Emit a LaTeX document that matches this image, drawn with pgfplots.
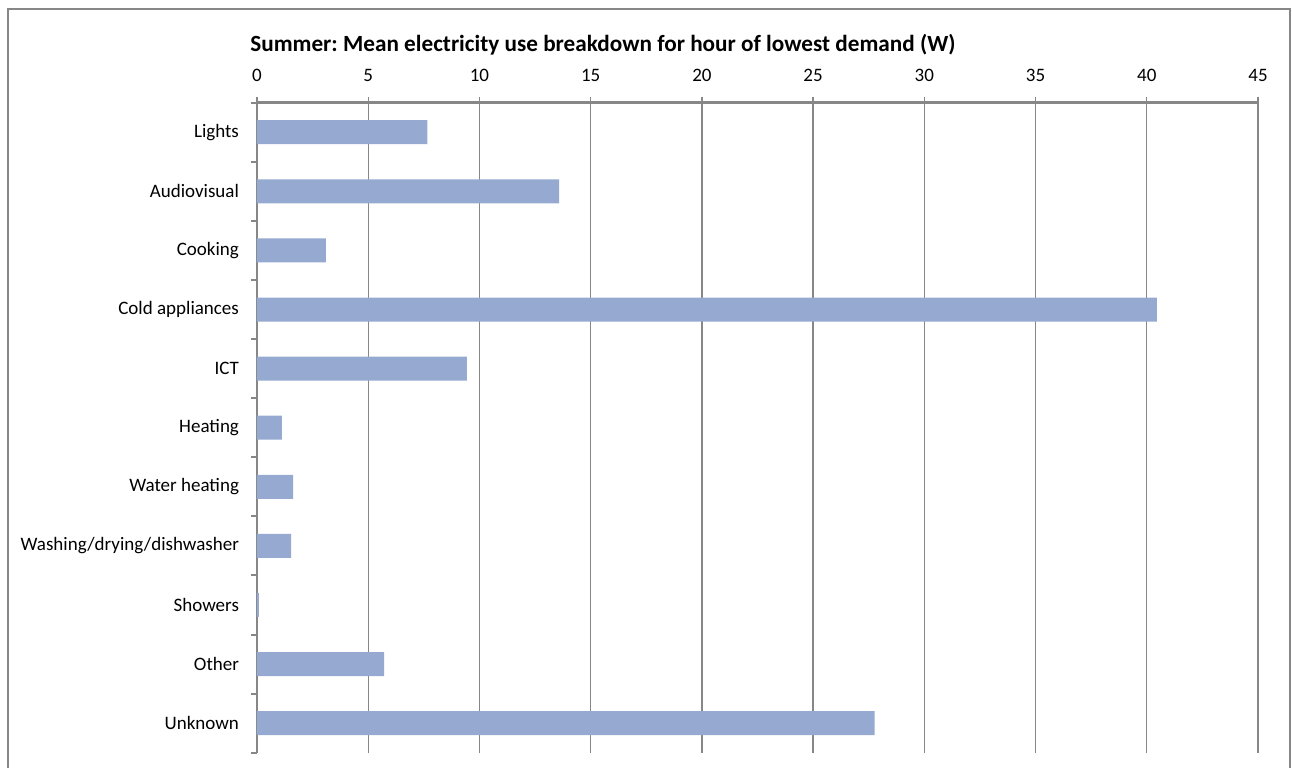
\documentclass[border=0pt]{standalone}
\usepackage{fontspec}
\setmainfont{Carlito}
\usepackage{pgfplots}
\pgfplotsset{compat=1.18}
\usepackage{pgfplotstable}
\frenchspacing
\definecolor{barblue}{HTML}{95A9D1}
\definecolor{gridgrey}{HTML}{878787}
% idx 10 = Lights (top) ... idx 0 = Unknown (bottom)
\pgfplotstableread{
idx value
10 7.66
9 13.58
8 3.10
7 40.45
6 9.44
5 1.12
4 1.62
3 1.53
2 0.08
1 5.71
0 27.76
}\datatable
\begin{document}
\begin{tikzpicture}
\useasboundingbox (0pt,0pt) rectangle (646pt,383.5pt);
\draw[gridgrey, line width=0.7pt] (4pt,-10pt) -- (4pt,379pt) -- (645pt,379pt) -- (645pt,-10pt);
\node[anchor=west, font=\fontsize{11.6pt}{13pt}\selectfont\bfseries, inner sep=0pt] at (125pt,361pt) {Summer: Mean electricity use breakdown for hour of lowest demand (W)};
\begin{axis}[
  name=ax,
  at={(128.5pt,7.15pt)}, anchor=south west,
  scale only axis, width=500.5pt, height=325pt,
  xbar, bar width=12pt,
  xmin=0, xmax=45,
  ymin=-0.5, ymax=10.5,
  axis x line*=top,
  axis y line*=left,
  axis line style={gridgrey, line width=1pt},
  xtick={0,5,...,45},
  ytick={0,...,10},
  yticklabels={Unknown,Other,Showers,Washing/drying/dishwasher,Water heating,Heating,ICT,Cold appliances,Cooking,Audiovisual,Lights},
  minor ytick={-0.5,0.5,...,10.5},
  tick align=outside,
  major x tick style={gridgrey, line width=0.7pt},
  major y tick style={draw=none},
  minor y tick style={gridgrey, line width=1pt},
  major tick length=3pt,
  minor tick length=3pt,
  xmajorgrids,
  major grid style={gridgrey, line width=0.7pt},
  /pgf/number format/assume math mode=true,
  tick label style={font=\fontsize{9.5pt}{11pt}\selectfont},
  xticklabel style={yshift=4pt},
  yticklabel style={xshift=-2.5pt},
  clip=false,
]
\addplot[fill=barblue, draw=none] table[x=value, y=idx] {\datatable};
\end{axis}
\draw[gridgrey, line width=1.2pt] (128.5pt,332.15pt) -- (629pt,332.15pt);
\end{tikzpicture}
\end{document}
